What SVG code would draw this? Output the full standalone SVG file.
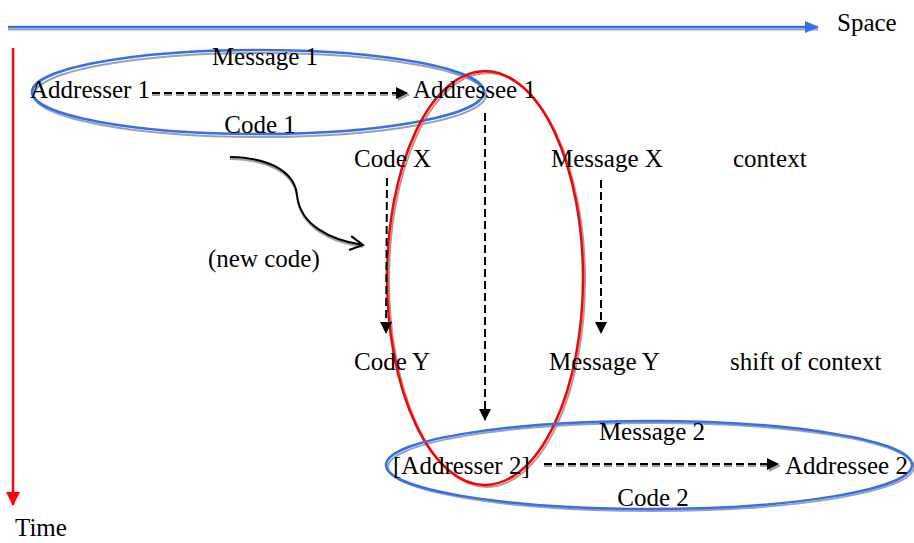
<svg xmlns="http://www.w3.org/2000/svg" width="914" height="543" viewBox="0 0 914 543">
<defs>
<style>
text{font-family:"Liberation Serif","Times New Roman",serif;font-size:25px;fill:#000}
.dash{fill:none;stroke:#000;stroke-width:2;stroke-dasharray:8 4}
.sh{fill:none;stroke:#a0a0a0;stroke-width:2}
.shd{fill:none;stroke:#a0a0a0;stroke-width:2;stroke-dasharray:8 4}
.blue{fill:none;stroke:#3370ee;stroke-width:2.5}
.red{fill:none;stroke:#ff0000;stroke-width:2.5}
</style>
<marker id="ah" markerWidth="12" markerHeight="12" refX="11" refY="6" orient="auto" markerUnits="userSpaceOnUse">
<path d="M0,0 L12,6 L0,12 Z" fill="#000"/>
</marker>
<marker id="ahs" markerWidth="12" markerHeight="12" refX="11" refY="6" orient="auto" markerUnits="userSpaceOnUse">
<path d="M0,0 L12,6 L0,12 Z" fill="#a0a0a0"/>
</marker>
<marker id="ahb" markerWidth="14" markerHeight="14" refX="13" refY="7" orient="auto" markerUnits="userSpaceOnUse">
<path d="M0,1 L14,7 L0,13 Z" fill="#3370ee"/>
</marker>
<marker id="ahr" markerWidth="14" markerHeight="16" refX="13" refY="7" orient="auto" markerUnits="userSpaceOnUse">
<path d="M0,0 L14,7 L0,14 Z" fill="#ff0000"/>
</marker>
<marker id="open" markerWidth="20" markerHeight="20" refX="16" refY="10" orient="auto" markerUnits="userSpaceOnUse">
<path d="M3,3 L16,10 L3,17" fill="none" stroke="#000" stroke-width="2"/>
</marker>
</defs>
<rect width="914" height="543" fill="#fff"/>

<g id="axes">
<line x1="8" y1="29.5" x2="818" y2="29.5" class="sh"/>
<line x1="8" y1="27" x2="818" y2="27" class="blue" marker-end="url(#ahb)"/>
<text x="837" y="31">Space</text>
<line x1="13" y1="48" x2="13" y2="505" class="red" marker-end="url(#ahr)"/>
<text x="15" y="536">Time</text>
</g>

<g id="shadows">
<ellipse cx="260" cy="95" rx="226" ry="42" class="sh"/>
<ellipse cx="487" cy="280" rx="98" ry="207" class="sh"/>
<ellipse cx="651" cy="467" rx="263" ry="44" class="sh"/>
</g>

<g id="ellipse-1"><ellipse cx="258" cy="92" rx="226" ry="42" class="blue"/></g>
<g id="ellipse-red"><ellipse cx="485" cy="278" rx="98" ry="207" class="red"/></g>
<g id="ellipse-2"><ellipse cx="649" cy="465" rx="263" ry="44" class="blue"/></g>

<g id="connectors">
<line x1="152" y1="95" x2="409" y2="95" class="shd" marker-end="url(#ahs)"/>
<line x1="152" y1="93" x2="407" y2="93" class="dash" marker-end="url(#ah)"/>
<line x1="485" y1="113" x2="485" y2="420" class="dash" marker-end="url(#ah)"/>
<line x1="387" y1="178" x2="386" y2="333" class="dash" marker-end="url(#ah)"/>
<line x1="601" y1="180" x2="601" y2="333" class="dash" marker-end="url(#ah)"/>
<line x1="544" y1="466" x2="780" y2="466" class="shd" marker-end="url(#ahs)"/>
<line x1="544" y1="464" x2="778" y2="464" class="dash" marker-end="url(#ah)"/>
<path d="M230,159 C275,160 295,177 297,197 C300,227 330,242 363,247" class="sh"/>
<path d="M230,157 C275,158 295,175 297,195 C300,225 330,240 363,245" fill="none" stroke="#000" stroke-width="2" marker-end="url(#open)"/>
</g>

<g id="labels">
<text x="265" y="65" text-anchor="middle">Message 1</text>
<text x="30" y="98">Addresser 1</text>
<text x="413" y="98">Addressee 1</text>
<text x="260" y="133" text-anchor="middle">Code 1</text>
<text x="354" y="167">Code X</text>
<text x="551" y="167">Message X</text>
<text x="733" y="167">context</text>
<text x="208" y="267">(new code)</text>
<text x="354" y="370">Code Y</text>
<text x="549" y="370">Message Y</text>
<text x="730" y="370">shift of context</text>
<text x="652" y="440" text-anchor="middle">Message 2</text>
<text x="393" y="474">[Addresser 2]</text>
<text x="785" y="474">Addressee 2</text>
<text x="653" y="506" text-anchor="middle">Code 2</text>
</g>
</svg>
